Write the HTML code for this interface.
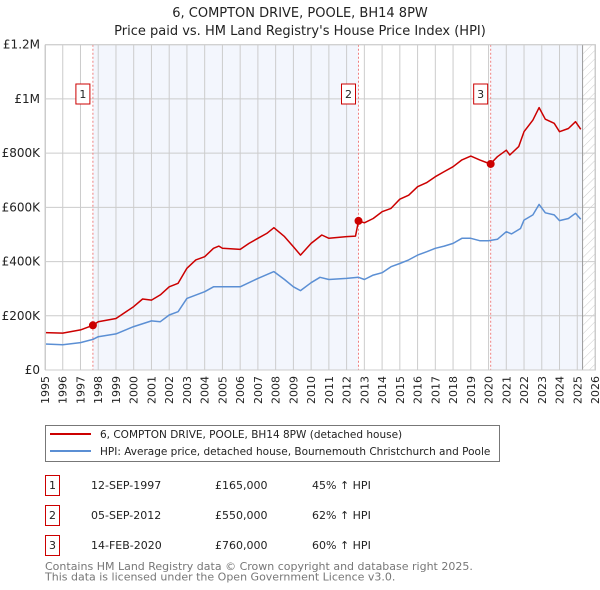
<!DOCTYPE html>
<html><head><meta charset="utf-8"><style>
body{margin:0;background:#fff;font-family:"DejaVu Sans","Liberation Sans",sans-serif;}
svg{display:block}
</style></head><body>
<svg id="c" width="600" height="590" xmlns="http://www.w3.org/2000/svg" font-family="DejaVu Sans, Liberation Sans, sans-serif">
<text x="300" y="17" text-anchor="middle" font-size="13" fill="#222">6, COMPTON DRIVE, POOLE, BH14 8PW</text>
<text x="300" y="35" text-anchor="middle" font-size="13" fill="#222">Price paid vs. HM Land Registry's House Price Index (HPI)</text>
<g id="plot"></g>
<g>
<rect x="45.5" y="425.5" width="454" height="36" fill="#fff" stroke="#777"/>
<line x1="50" y1="434" x2="91" y2="434" stroke="#cc0000" stroke-width="2"/>
<text x="100" y="438" font-size="10.5" fill="#222">6, COMPTON DRIVE, POOLE, BH14 8PW (detached house)</text>
<line x1="50" y1="451" x2="91" y2="451" stroke="#5b8fd4" stroke-width="2"/>
<text x="100" y="455" font-size="10.5" fill="#222">HPI: Average price, detached house, Bournemouth Christchurch and Poole</text>
</g>
<g id="tbl" font-size="11" fill="#222"></g>
<text x="45" y="570" font-size="11" fill="#777">Contains HM Land Registry data © Crown copyright and database right 2025.</text>
<text x="45" y="580.5" font-size="11" fill="#777">This data is licensed under the Open Government Licence v3.0.</text>
</svg>
<script>
const redT=[1995,1996,1997,1997.7,1998,1999,2000,2000.5,2001,2001.5,2002,2002.5,2003,2003.5,2004,2004.5,2004.8,2005,2006,2006.5,2007,2007.5,2007.9,2008.5,2009,2009.4,2010,2010.6,2011,2012,2012.5,2012.67,2013,2013.5,2014,2014.5,2015,2015.5,2016,2016.5,2017,2017.5,2018,2018.5,2019,2019.5,2020.1,2020.5,2021,2021.2,2021.7,2022,2022.5,2022.85,2023.2,2023.7,2024,2024.5,2024.9,2025.2];
const redV=[138,136,148,165,178,190,234,262,258,277,307,320,375,406,418,449,457,449,445,467,486,504,525,492,455,424,467,498,486,492,494,550,543,559,584,596,630,645,676,691,713,732,750,775,789,775,760,787,811,793,824,879,922,968,925,910,879,891,916,888];
const blueT=[1995,1996,1997,1997.7,1998,1999,2000,2001,2001.5,2002,2002.5,2003,2004,2004.5,2005,2006,2007,2007.9,2008.5,2009,2009.4,2010,2010.5,2011,2012,2012.67,2013,2013.5,2014,2014.5,2015,2015.5,2016,2016.5,2017,2017.5,2018,2018.5,2019,2019.5,2020,2020.5,2021,2021.3,2021.8,2022,2022.5,2022.85,2023.2,2023.7,2024,2024.5,2024.9,2025.2];
const blueV=[96,93,101,113,123,133,160,181,178,203,215,264,289,307,307,307,338,363,334,307,293,322,342,334,338,342,334,350,359,381,393,406,424,436,449,457,467,486,486,477,477,482,510,502,522,553,572,611,580,572,551,559,578,556];
const saleT=[1997.7,2012.67,2020.12];
const saleV=[165,550,760];
const saleLabels=["1","2","3"];
const saleDates=["12-SEP-1997","05-SEP-2012","14-FEB-2020"];
const salePrices=["£165,000","£550,000","£760,000"];
const saleHpi=["45% ↑ HPI","62% ↑ HPI","60% ↑ HPI"];
const yTicks=[0,200,400,600,800,1000,1200];
const yTickLabels=["£0","£200K","£400K","£600K","£800K","£1M","£1.2M"];
const years=[1995,1996,1997,1998,1999,2000,2001,2002,2003,2004,2005,2006,2007,2008,2009,2010,2011,2012,2013,2014,2015,2016,2017,2018,2019,2020,2021,2022,2023,2024,2025,2026];

const NS="http://www.w3.org/2000/svg";
const X0=45,X1=595,Y0=370,Y1=44.7;
const x=t=>X0+(t-1995)/(2026-1995)*(X1-X0);
const y=v=>Y0-v/1200*(Y0-Y1);
function mk(tag,attrs,parent){const e=document.createElementNS(NS,tag);for(const k in attrs)e.setAttribute(k,attrs[k]);parent.appendChild(e);return e;}
const g=document.getElementById('plot');
const endT=2025.3;
let s1=mk('rect',{x:x(saleT[0]),y:Y1,width:x(saleT[1])-x(saleT[0]),height:Y0-Y1,fill:'#f3f6fd'},g);


let s2=mk('rect',{x:x(saleT[2]),y:Y1,width:x(endT)-x(saleT[2]),height:Y0-Y1,fill:'#f3f6fd'},g);


const defs=mk('defs',{},g);
const pat=mk('pattern',{id:'h',width:6,height:6,patternUnits:'userSpaceOnUse',patternTransform:'rotate(45)'},defs);
mk('line',{x1:0,y1:0,x2:0,y2:6,stroke:'#ccc','stroke-width':1},pat);
let hr=mk('rect',{x:x(endT),y:Y1,width:X1-x(endT),height:Y0-Y1,fill:'url(#h)'},g);


years.forEach(t=>{const l=mk('line',{x1:x(t),x2:x(t),y1:Y1,y2:Y0,stroke:'#ccc','stroke-width':1},g);


const tx=mk('text',{x:0,y:0,'font-size':11,fill:'#222','text-anchor':'end',transform:`translate(${x(t)+4},${Y0+6}) rotate(-90)`},g);
tx.textContent=t;

});
yTicks.forEach((v,i)=>{const l=mk('line',{x1:X0,x2:X1,y1:y(v),y2:y(v),stroke:'#ccc','stroke-width':1},g);


const tx=mk('text',{x:X0-5,y:y(v)+4,'font-size':12,fill:'#222','text-anchor':'end'},g);
tx.textContent=yTickLabels[i];

});
let el=mk('line',{x1:x(endT),x2:x(endT),y1:Y1,y2:Y0,stroke:'#999','stroke-width':1},g);


saleT.forEach((t,i)=>{const l=mk('line',{x1:x(t),x2:x(t),y1:Y1,y2:Y0,stroke:'#f08080','stroke-width':1,'stroke-dasharray':'2,2'},g);


const b=mk('rect',{x:x(t)-17,y:84,width:14,height:20,fill:'#fff',stroke:'#cc0000'},g);


const tx=mk('text',{x:x(t)-10,y:98,'font-size':11,fill:'#222','text-anchor':'middle'},g);
tx.textContent=saleLabels[i];

});
function path(T,V,col,name){const d=T.map((t,i)=>(i?'L':'M')+x(t).toFixed(1)+','+y(V[i]).toFixed(1)).join('');
const p=mk('path',{d:d,fill:'none',stroke:col,'stroke-width':1.5,'stroke-linejoin':'round'},g);

}
path(blueT,blueV,'#5b8fd4','hpi-line');
path(redT,redV,'#cc0000','property-price-line');
saleT.forEach((t,i)=>{const c=mk('circle',{cx:x(t),cy:y(saleV[i]),r:4,fill:'#cc0000'},g);

});
let fr=mk('rect',{x:X0+0.5,y:Y1,width:X1-X0,height:Y0-Y1,fill:'none',stroke:'#ccc'},g);


const tb=document.getElementById('tbl');
saleLabels.forEach((lab,i)=>{const yy=475+i*30;
const b=mk('rect',{x:45.5,y:yy+0.5,width:14,height:20,fill:'#fff',stroke:'#cc0000'},tb);


const cols=[[52.5,lab,'middle'],[91,saleDates[i],'start'],[215,salePrices[i],'start'],[312,saleHpi[i],'start']];
cols.forEach(c=>{const t=mk('text',{x:c[0],y:yy+14,'text-anchor':c[2],'font-size':11,fill:'#222'},tb);
t.textContent=c[1];

});});
</script>
</body></html>
